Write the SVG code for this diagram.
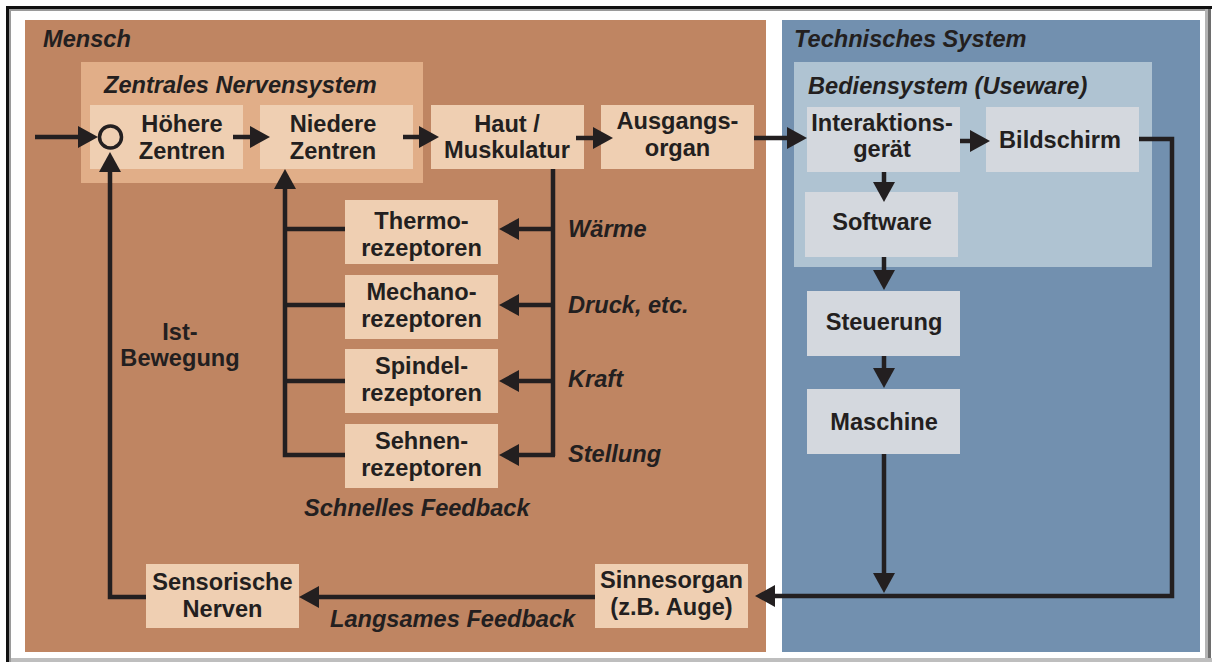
<svg xmlns="http://www.w3.org/2000/svg" width="1212" height="662" viewBox="0 0 1212 662">
  <style>
    .t { font-family: "Liberation Sans", Arial, sans-serif; font-weight: bold; font-size: 23.6px; fill: #231F20; }
    .c { text-anchor: middle; }
    .i { font-style: italic; }
    .box { fill: #EFCFB2; }
    .gbox { fill: #D4D8DE; }
    .ln { fill: none; stroke: #231F20; stroke-width: 4.5; }
  </style>
  <defs>
    <marker id="arr" markerUnits="userSpaceOnUse" markerWidth="20" markerHeight="22" viewBox="0 0 20 22" refX="10" refY="11" orient="auto">
      <path d="M0,0 L20,11 L0,22 Z" fill="#231F20"/>
    </marker>
  </defs>

  <!-- page frame -->
  <rect x="0" y="0" width="1212" height="662" fill="#FFFFFF"/>
  <rect x="6" y="6" width="1206" height="3" fill="#111111"/>
  <rect x="6" y="6" width="3" height="656" fill="#111111"/>
  <rect x="9" y="9" width="1196" height="2" fill="#9A9A9A"/>
  <rect x="9" y="9" width="2" height="653" fill="#9A9A9A"/>
  <rect x="1205" y="9" width="3" height="653" fill="#B4B4B4"/>
  <rect x="1208" y="9" width="3" height="653" fill="#6E6E6E"/>
  <rect x="11" y="658" width="1201" height="4" fill="#BEBEBE"/>

  <!-- panels -->
  <g id="mensch">
    <rect x="25" y="20" width="741" height="632" fill="#BF8562"/>
    <text class="t i" x="43" y="47">Mensch</text>
  </g>
  <g id="technisches-system">
    <rect x="782" y="20" width="418" height="632" fill="#7290AF"/>
    <text class="t i" x="794" y="47">Technisches System</text>
  </g>
  <g id="zns">
    <rect x="81" y="62" width="342" height="121" fill="#E1AE88"/>
    <text class="t i" x="104" y="93">Zentrales Nervensystem</text>
  </g>
  <g id="bediensystem">
    <rect x="794" y="62" width="358" height="205" fill="#AFC3D2"/>
    <text class="t i" x="808" y="94">Bediensystem (Useware)</text>
  </g>

  <!-- human-side nodes -->
  <g id="hoehere-zentren">
    <rect class="box" x="90" y="105" width="153" height="64"/>
    <circle cx="110.5" cy="137" r="11" fill="#EFCFB2" stroke="#231F20" stroke-width="3.5"/>
    <text class="t c" x="182" y="132">Höhere</text>
    <text class="t c" x="182" y="159">Zentren</text>
  </g>
  <g id="niedere-zentren">
    <rect class="box" x="260" y="105" width="153" height="64"/>
    <text class="t c" x="333" y="132">Niedere</text>
    <text class="t c" x="333" y="159">Zentren</text>
  </g>
  <g id="haut-muskulatur">
    <rect class="box" x="431" y="105" width="153" height="64"/>
    <text class="t c" x="507" y="132">Haut /</text>
    <text class="t c" x="507" y="158">Muskulatur</text>
  </g>
  <g id="ausgangsorgan">
    <rect class="box" x="601" y="105" width="153" height="64"/>
    <text class="t c" x="677.5" y="129">Ausgangs-</text>
    <text class="t c" x="677.5" y="156">organ</text>
  </g>
  <g id="thermorezeptoren">
    <rect class="box" x="345" y="200" width="153" height="64"/>
    <text class="t c" x="421.5" y="229">Thermo-</text>
    <text class="t c" x="421.5" y="256">rezeptoren</text>
  </g>
  <g id="mechanorezeptoren">
    <rect class="box" x="345" y="275" width="153" height="64"/>
    <text class="t c" x="421.5" y="300">Mechano-</text>
    <text class="t c" x="421.5" y="327">rezeptoren</text>
  </g>
  <g id="spindelrezeptoren">
    <rect class="box" x="345" y="349" width="153" height="64"/>
    <text class="t c" x="421.5" y="374">Spindel-</text>
    <text class="t c" x="421.5" y="401">rezeptoren</text>
  </g>
  <g id="sehnenrezeptoren">
    <rect class="box" x="345" y="424" width="153" height="64"/>
    <text class="t c" x="421.5" y="449">Sehnen-</text>
    <text class="t c" x="421.5" y="476">rezeptoren</text>
  </g>
  <g id="sensorische-nerven">
    <rect class="box" x="146" y="564" width="153" height="64"/>
    <text class="t c" x="222.5" y="590">Sensorische</text>
    <text class="t c" x="222.5" y="617">Nerven</text>
  </g>
  <g id="sinnesorgan">
    <rect class="box" x="595" y="564" width="153" height="64"/>
    <text class="t c" x="671.5" y="588">Sinnesorgan</text>
    <text class="t c" x="671.5" y="615">(z.B. Auge)</text>
  </g>

  <!-- technical-side nodes -->
  <g id="interaktionsgeraet">
    <rect class="gbox" x="807" y="107" width="153" height="65"/>
    <text class="t c" x="882" y="131">Interaktions-</text>
    <text class="t c" x="882" y="157">gerät</text>
  </g>
  <g id="bildschirm">
    <rect class="gbox" x="986" y="107" width="153" height="65"/>
    <text class="t c" x="1060" y="148">Bildschirm</text>
  </g>
  <g id="software">
    <rect class="gbox" x="805" y="192" width="153" height="65"/>
    <text class="t c" x="882" y="230">Software</text>
  </g>
  <g id="steuerung">
    <rect class="gbox" x="807" y="291" width="153" height="65"/>
    <text class="t c" x="884" y="330">Steuerung</text>
  </g>
  <g id="maschine">
    <rect class="gbox" x="807" y="389" width="153" height="65"/>
    <text class="t c" x="884" y="430">Maschine</text>
  </g>

  <!-- connectors -->
  <g id="connectors">
    <path class="ln" d="M35,137 H88" marker-end="url(#arr)"/>
    <path class="ln" d="M233,137 H260" marker-end="url(#arr)"/>
    <path class="ln" d="M403,137 H429" marker-end="url(#arr)"/>
    <path class="ln" d="M576,138 H603" marker-end="url(#arr)"/>
    <path class="ln" d="M754,138 H797" marker-end="url(#arr)"/>
    <path class="ln" d="M960,141 H980" marker-end="url(#arr)"/>
    <path class="ln" d="M884,172 V192" marker-end="url(#arr)"/>
    <path class="ln" d="M884,257 V280" marker-end="url(#arr)"/>
    <path class="ln" d="M884,356 V378" marker-end="url(#arr)"/>
    <path class="ln" d="M884,454 V583" marker-end="url(#arr)"/>
    <path class="ln" d="M1139,139 H1172 V596 H765" marker-end="url(#arr)"/>
    <path class="ln" d="M595,597 H309" marker-end="url(#arr)"/>
    <path class="ln" d="M146,597 H110 V162" marker-end="url(#arr)"/>

    <!-- fast feedback loop -->
    <path class="ln" d="M553,169 V456"/>
    <path class="ln" d="M553,229 H509" marker-end="url(#arr)"/>
    <path class="ln" d="M553,305 H509" marker-end="url(#arr)"/>
    <path class="ln" d="M553,381 H509" marker-end="url(#arr)"/>
    <path class="ln" d="M555,455 H509" marker-end="url(#arr)"/>
    <path class="ln" d="M345,229 H287"/>
    <path class="ln" d="M345,305 H287"/>
    <path class="ln" d="M345,381 H287"/>
    <path class="ln" d="M345,455 H285 V179" marker-end="url(#arr)"/>
  </g>

  <!-- connector labels -->
  <g id="labels">
    <text class="t i" x="568" y="237">Wärme</text>
    <text class="t i" x="568" y="313">Druck, etc.</text>
    <text class="t i" x="568" y="387">Kraft</text>
    <text class="t i" x="568" y="462">Stellung</text>
    <text class="t i" x="304" y="516">Schnelles Feedback</text>
    <text class="t i" x="330" y="627">Langsames Feedback</text>
    <text class="t c" x="180" y="340">Ist-</text>
    <text class="t c" x="180" y="366">Bewegung</text>
  </g>
</svg>
